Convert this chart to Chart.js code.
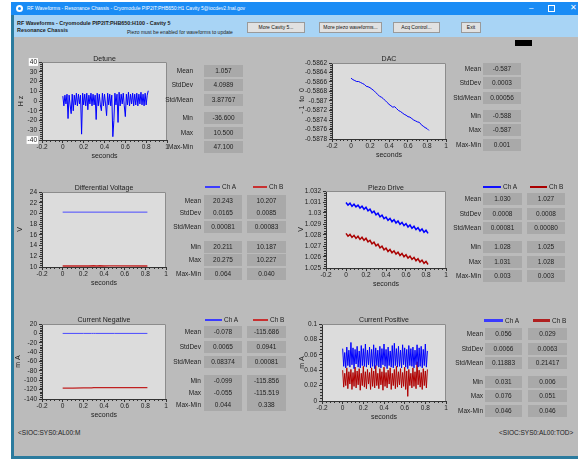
<!DOCTYPE html>
<html>
<head>
<meta charset="utf-8">
<script src="https://cdn.jsdelivr.net/npm/chart.js@4.4.0/dist/chart.umd.min.js"></script>
<style>
  body { margin: 0; width: 578px; height: 460px; background: #fff; position: relative; overflow: hidden;
         font-family: "Liberation Sans", Arial, sans-serif; color: #222; }
  .abs { position: absolute; white-space: nowrap; }
  canvas { position: absolute; }
  .btn { position: absolute; height: 11px; background: #e1e1e1; border: 1px solid #9a9a9a; box-sizing: border-box;
         font-size: 5px; line-height: 9px; text-align: center; color: #111; white-space: nowrap; }
  .lbl { position: absolute; width: 60px; text-align: right; font-size: 6.5px; line-height: 8px; }
  .val { position: absolute; height: 12px; background: #a9a9a9; font-size: 6.5px; line-height: 12px; text-align: center; }
  .ttl { position: absolute; width: 120px; text-align: center; font-size: 7px; line-height: 8px; }
  .leg { position: absolute; font-size: 6.5px; line-height: 8px; }
</style>
</head>
<body>
<!-- window frame -->
<div class="abs" style="left:11px;top:2px;width:567px;height:13px;background:#1a8cf5"></div>
<div class="abs" style="left:16px;top:5px;width:7px;height:7px;border-radius:50%;background:#fff"></div>
<div class="abs" style="left:18px;top:7px;width:3px;height:3px;border-radius:50%;background:#1a8cf5"></div>
<div class="abs" style="left:27px;top:4px;font-size:5px;line-height:8px;color:#fff">RF Waveforms - Resonance Chassis - Cryomodule PIP2IT:PHB650:H1 Cavity 5@iocdev2.fnal.gov</div>
<div class="abs" style="left:529px;top:3px;font-size:8px;line-height:10px;color:#fff">&ndash;</div>
<div class="abs" style="left:548px;top:5px;width:5px;height:5px;border:1px solid #fff"></div>
<div class="abs" style="left:570px;top:3px;font-size:8px;line-height:10px;color:#fff">&#x2715;</div>
<div class="abs" style="left:11px;top:15px;width:567px;height:22px;background:#a8d4f5"></div>
<div class="abs" style="left:11px;top:15px;width:3px;height:444px;background:#2b7b9e"></div>
<div class="abs" style="left:14px;top:37px;width:564px;height:419px;background:#bbbbbb"></div>
<div class="abs" style="left:11px;top:456px;width:567px;height:3px;background:#2b7b9e"></div>

<div class="abs" style="left:17px;top:20px;font-size:5.4px;line-height:7px;font-weight:bold">RF Waveforms - Cryomodule PIP2IT:PHB650:H100 - Cavity 5</div>
<div class="abs" style="left:17px;top:27px;font-size:5.4px;line-height:7px;font-weight:bold">Resonance Chassis</div>
<div class="abs" style="left:127px;top:29px;font-size:5px;line-height:7px">Piezo must be enabled for waveforms to update</div>
<div class="btn" style="left:247px;top:22px;width:58px">More Cavity 5...</div>
<div class="btn" style="left:319px;top:22px;width:63px">More piezo waveforms...</div>
<div class="btn" style="left:393px;top:22px;width:47px">Acq Control...</div>
<div class="btn" style="left:461px;top:22px;width:20px">Exit</div>
<div class="abs" style="left:515px;top:40px;width:17px;height:6px;background:#000"></div>

<div class="abs" style="left:18px;top:429px;font-size:6.5px;line-height:8px">&lt;SIOC:SYS0:AL00:M</div>
<div class="abs" style="left:499px;top:429px;font-size:6.5px;line-height:8px">&lt;SIOC:SYS0:AL00:TOD&gt;</div>

<script>
// sample times (seconds)
const T = [0,0.01,0.02,0.03,0.04,0.05,0.06,0.07,0.08,0.09,
  0.1,0.11,0.12,0.13,0.14,0.15,0.16,0.17,0.18,0.19,
  0.2,0.21,0.22,0.23,0.24,0.25,0.26,0.27,0.28,0.29,
  0.3,0.31,0.32,0.33,0.34,0.35,0.36,0.37,0.38,0.39,
  0.4,0.41,0.42,0.43,0.44,0.45,0.46,0.47,0.48,0.49,
  0.5,0.51,0.52,0.53,0.54,0.55,0.56,0.57,0.58,0.59,
  0.6,0.61,0.62,0.63,0.64,0.65,0.66,0.67,0.68,0.69,
  0.7,0.71,0.72,0.73,0.74,0.75,0.76,0.77,0.78,0.79,
  0.8,0.81,0.82];
const T2 = [0,0.02,0.04,0.06,0.08,0.1,0.12,0.14,0.16,0.18,0.2,0.22,0.24,0.26,0.28,0.3,0.32,0.34,0.36,0.38,
  0.4,0.42,0.44,0.46,0.48,0.5,0.52,0.54,0.56,0.58,0.6,0.62,0.64,0.66,0.68,0.7,0.72,0.74,0.76,0.78,0.8,0.82];

const detune = [5,-5,6,-3,7,-18,6,-4,-13,7,-10,6,-4,8,-5,7,-3,6,-34,8,
  -4,7,-5,8,-9,6,-3,8,-5,7,-4,6,-19,8,-5,7,-4,-10,8,-5,
  7,-3,-15,8,-4,7,-5,6,-36.6,-20,8,-4,7,-22,9,-5,7,-3,8,-5,
  -16,7,-4,9,-5,7,-3,8,-5,7,-4,8,-5,7,-3,9,-4,7,-5,8,
  -4,6,10.5];

const dac = [-0.58652,-0.58655,-0.58657,-0.58659,-0.58659,-0.58661,-0.58663,-0.58665,-0.58669,-0.58670,
  -0.58672,-0.58675,-0.58678,-0.58682,-0.58686,-0.58690,-0.58692,-0.58695,-0.58699,-0.58703,
  -0.58707,-0.58710,-0.58713,-0.58712,-0.58716,-0.58720,-0.58722,-0.58725,-0.58728,-0.58730,
  -0.58733,-0.58734,-0.58737,-0.58740,-0.58742,-0.58744,-0.58745,-0.58750,-0.58753,-0.58756,
  -0.58758,-0.58762];

const dvT = [0, 0.82];
const dvA = [20.243, 20.243];
const dvTB = [0, 0.25, 0.3, 0.33, 0.36, 0.4, 0.45, 0.82];
const dvB = [10.2, 10.2, 10.22, 10.19, 10.23, 10.19, 10.21, 10.21];

const piezoA = [1.03096,1.03072,1.03089,1.03061,1.03080,1.03056,1.03071,1.03045,1.03062,1.03034,
  1.03053,1.03020,1.03035,1.03002,1.03017,1.02984,1.02999,1.02966,1.02981,1.02948,
  1.02963,1.02933,1.02951,1.02921,1.02939,1.02909,1.02927,1.02897,1.02915,1.02885,
  1.02903,1.02873,1.02891,1.02861,1.02879,1.02849,1.02867,1.02837,1.02855,1.02825,
  1.02843,1.02815];
const piezoB = [1.02815,1.02789,1.02806,1.02778,1.02797,1.02769,1.02788,1.02760,1.02779,1.02751,
  1.02770,1.02737,1.02752,1.02719,1.02734,1.02701,1.02716,1.02683,1.02698,1.02665,
  1.02680,1.02650,1.02668,1.02638,1.02656,1.02626,1.02644,1.02614,1.02632,1.02602,
  1.02620,1.02590,1.02608,1.02578,1.02596,1.02566,1.02584,1.02554,1.02572,1.02542,
  1.02560,1.02532];

const cnT = [0, 0.1, 0.2, 0.28, 0.3, 0.32, 0.5, 0.82];
const cnA = [-0.08, -0.07, -0.09, -0.08, -0.06, -0.08, -0.07, -0.08];
const cnB = [-116.8, -116.6, -116.4, -116.2, -115.6, -115.8, -115.7, -115.6];

const cpA = [0.068,0.045,0.063,0.043,0.070,0.046,0.066,0.044,0.076,0.047,
  0.069,0.042,0.067,0.048,0.071,0.044,0.065,0.043,0.072,0.046,
  0.068,0.045,0.074,0.044,0.066,0.047,0.070,0.043,0.067,0.045,
  0.073,0.042,0.069,0.046,0.066,0.044,0.071,0.043,0.068,0.047,
  0.074,0.045,0.067,0.042,0.070,0.046,0.065,0.044,0.072,0.043,
  0.075,0.046,0.068,0.044,0.071,0.045,0.066,0.043,0.073,0.047,
  0.069,0.044,0.067,0.042,0.072,0.046,0.068,0.045,0.070,0.043,
  0.066,0.047,0.073,0.044,0.069,0.045,0.071,0.043,0.067,0.046,
  0.074,0.044,0.065];
const cpB = [0.040,0.018,0.036,0.020,0.043,0.016,0.038,0.022,0.041,0.015,
  0.037,0.019,0.044,0.017,0.039,0.021,0.042,0.014,0.036,0.020,
  0.045,0.018,0.038,0.016,0.041,0.022,0.037,0.015,0.043,0.019,
  0.039,0.017,0.046,0.020,0.036,0.016,0.042,0.021,0.038,0.014,
  0.044,0.019,0.037,0.017,0.040,0.022,0.043,0.015,0.036,0.020,
  0.041,0.016,0.045,0.018,0.038,0.021,0.042,0.017,0.037,0.019,
  0.044,0.015,0.039,0.006,0.041,0.020,0.036,0.017,0.043,0.019,
  0.038,0.016,0.051,0.021,0.040,0.018,0.037,0.015,0.042,0.020,
  0.039,0.017,0.041];

const statLabels = ['Mean','StdDev','Std/Mean','Min','Max','Max-Min'];
const detuneStats = ['1.057','4.0989','3.87767','-36.600','10.500','47.100'];
const dacStats = ['-0.587','0.0003','0.00056','-0.588','-0.587','0.001'];
const dvStatsA = ['20.243','0.0165','0.00081','20.211','20.275','0.064'];
const dvStatsB = ['10.207','0.0085','0.00083','10.187','10.227','0.040'];
const pzStatsA = ['1.030','0.0008','0.00081','1.028','1.031','0.003'];
const pzStatsB = ['1.027','0.0008','0.00080','1.025','1.028','0.003'];
const cnStatsA = ['-0.078','0.0065','0.08374','-0.099','-0.055','0.044'];
const cnStatsB = ['-115.686','0.0941','0.00081','-115.856','-115.519','0.338'];
const cpStatsA = ['0.056','0.0066','0.11883','0.031','0.076','0.046'];
const cpStatsB = ['0.029','0.0063','0.21417','0.006','0.051','0.046'];

const FONT = "'Liberation Sans', Arial, sans-serif";

// grey plot background + thin frame + minor ticks
const framePlugin = {
  id: 'frame',
  beforeDraw(c) {
    const a = c.chartArea, ctx = c.ctx;
    ctx.save();
    ctx.fillStyle = '#dcdcdc';
    ctx.fillRect(a.left, a.top, a.right - a.left, a.bottom - a.top);
    ctx.restore();
  },
  afterDraw(c) {
    const a = c.chartArea, ctx = c.ctx;
    ctx.save();
    ctx.strokeStyle = '#8c8c8c';
    ctx.lineWidth = 1;
    ctx.beginPath();
    ctx.moveTo(a.left, a.top + 0.5); ctx.lineTo(a.right - 0.5, a.top + 0.5); ctx.lineTo(a.right - 0.5, a.bottom);
    ctx.stroke();
    ctx.strokeStyle = '#333';
    ['x', 'y'].forEach(k => {
      const s = c.scales[k], t = s.ticks;
      for (let i = 0; i < t.length - 1; i++) {
        for (let j = 1; j < 5; j++) {
          const p = Math.round(s.getPixelForValue(t[i].value + (t[i + 1].value - t[i].value) * j / 5)) + 0.5;
          ctx.beginPath();
          if (k === 'x') { ctx.moveTo(p, a.bottom); ctx.lineTo(p, a.bottom + 2); }
          else { ctx.moveTo(a.left, p); ctx.lineTo(a.left - 2, p); }
          ctx.stroke();
        }
      }
    });
    ctx.restore();
  }
};

function div(cls, style, text) {
  const d = document.createElement('div');
  d.className = cls;
  Object.assign(d.style, style);
  d.textContent = text;
  document.body.appendChild(d);
  return d;
}

function series(xs, ys, color, width) {
  return {
    data: xs.map((x, i) => ({ x: x, y: ys[i] })),
    borderColor: color, borderWidth: width, pointRadius: 0, tension: 0, fill: false
  };
}

const fmt = v => String(+(+v).toFixed(6));

function waveChart(box, y, datasets, title) {
  const W = box.left - box.ytx + 6;
  const cv = document.createElement('canvas');
  cv.width = W + (box.right - box.left) + 8;
  cv.height = 6 + (box.bottom - box.top) + 20;
  cv.style.left = (box.left - W) + 'px';
  cv.style.top = (box.top - 6) + 'px';
  document.body.appendChild(cv);

  const tickFont = { family: FONT, size: 6.5, lineHeight: 1.2 };
  new Chart(cv, {
    type: 'line',
    data: { datasets: datasets },
    plugins: [framePlugin],
    options: {
      responsive: false,
      animation: false,
      events: [],
      layout: { padding: { top: 6, right: 8, left: 0, bottom: 0 } },
      plugins: { legend: { display: false }, tooltip: { enabled: false } },
      scales: {
        x: {
          type: 'linear', min: -0.2, max: 1,
          afterFit: s => { s.height = 20; },
          ticks: { stepSize: 0.2, font: tickFont, color: '#222', padding: 0, maxRotation: 0,
                   autoSkip: false, callback: fmt },
          grid: { drawOnChartArea: false, tickLength: 3, color: '#333' },
          border: { color: '#333' },
          title: { display: true, text: 'seconds', font: { family: FONT, size: 7, lineHeight: 1.2 },
                   color: '#222', padding: { top: 0, bottom: 0 } }
        },
        y: {
          type: 'linear', min: y.min, max: y.max,
          afterFit: s => { s.width = W; },
          ticks: {
            stepSize: y.step, font: tickFont, color: '#222', padding: 2, autoSkip: false, callback: fmt,
            showLabelBackdrop: c => !!y.backdrop && (c.index === 0 || c.index === c.scale.ticks.length - 1),
            backdropColor: '#ffffff', backdropPadding: { top: 0, bottom: 0, left: 1, right: 1 }
          },
          grid: { drawOnChartArea: false, tickLength: 3, color: '#333' },
          border: { color: '#333' },
          title: { display: true, text: y.title, font: { family: FONT, size: 7, lineHeight: 1.2 },
                   color: '#222', padding: { top: 6 - 4.2, bottom: 0 } }
        }
      }
    }
  });

  div('ttl', { left: ((box.left + box.right) / 2 - 60) + 'px', top: (box.titleY - 4) + 'px' }, title);
}

function statsBlock(labelRight, rows, boxes, cols) {
  rows.forEach((yc, r) => {
    div('lbl', { left: (labelRight - 60) + 'px', top: (yc - 4) + 'px' }, statLabels[r]);
    boxes.forEach((b, k) => {
      div('val', { left: b[0] + 'px', top: (yc - 6) + 'px', width: (b[1] - b[0]) + 'px' }, cols[k][r]);
    });
  });
}

function legend(y, items) {
  items.forEach(it => {
    div('abs', { left: it.x0 + 'px', top: Math.round(y - it.w / 2) + 'px', width: (it.x1 - it.x0) + 'px',
                 height: it.w + 'px', background: it.color }, '');
    div('leg', { left: (it.x1 + 2) + 'px', top: Math.round(y - 4) + 'px' }, it.text);
  });
}

const BLUE = '#0000ff', RED = '#b00000';

// Detune
waveChart({ left: 42, top: 62, right: 167, bottom: 140, ytx: 21, titleY: 58.5 },
  { min: -40, max: 40, step: 10, title: 'H z', backdrop: true },
  [series(T, detune, BLUE, 1)], 'Detune');
statsBlock(193, [70.7, 85, 100, 118.3, 132.7, 147.3], [[204, 243]], [detuneStats]);

// DAC
waveChart({ left: 332, top: 63, right: 446, bottom: 139, ytx: 302, titleY: 58.7 },
  { min: -0.5878, max: -0.5862, step: 0.0002, title: '- 1  to  0' },
  [series(T2, dac, BLUE, 1)], 'DAC');
statsBlock(481, [69, 83.3, 97.7, 116, 130.3, 145.3], [[483, 521]], [dacStats]);

// Differential Voltage
waveChart({ left: 42, top: 192, right: 166, bottom: 267, ytx: 20, titleY: 187.7 },
  { min: 10, max: 24, step: 2, title: 'V' },
  [series(dvT, dvA, '#4a4aff', 1), series(dvTB, dvB, '#c02020', 1.5)], 'Differential Voltage');
legend(187, [{ x0: 205, x1: 220, w: 2, color: '#3c3cff', text: 'Ch A' },
             { x0: 253, x1: 267, w: 2, color: '#c83030', text: 'Ch B' }]);
statsBlock(201, [201, 213.3, 227.3, 246.7, 260, 274], [[204, 242], [247, 286]], [dvStatsA, dvStatsB]);

// Piezo Drive
waveChart({ left: 326, top: 191, right: 446, bottom: 268, ytx: 301, titleY: 188.3 },
  { min: 1.025, max: 1.032, step: 0.001, title: 'V' },
  [series(T2, piezoA, BLUE, 1.5), series(T2, piezoB, '#aa0000', 1.5)], 'Piezo Drive');
legend(187.3, [{ x0: 483, x1: 501, w: 2, color: '#1010ff', text: 'Ch A' },
               { x0: 530, x1: 547, w: 2, color: '#aa0000', text: 'Ch B' }]);
statsBlock(481, [199.3, 214.3, 228.3, 246.7, 261.7, 276], [[483, 522], [527, 565]], [pzStatsA, pzStatsB]);

// Current Negative
waveChart({ left: 42, top: 324, right: 166, bottom: 399, ytx: 18, titleY: 320 },
  { min: -140, max: 20, step: 20, title: 'm A' },
  [series(cnT, cnA, '#4a4aff', 1), series(cnT, cnB, '#c02020', 1.2)], 'Current Negative');
legend(319.7, [{ x0: 205, x1: 222, w: 2, color: '#3c3cff', text: 'Ch A' },
               { x0: 253, x1: 268, w: 2, color: '#c83030', text: 'Ch B' }]);
statsBlock(201, [331.7, 346.7, 361.7, 381, 393.3, 404.5], [[204, 242], [247, 286]], [cnStatsA, cnStatsB]);

// Current Positive
waveChart({ left: 322, top: 324, right: 446, bottom: 401, ytx: 302, titleY: 320 },
  { min: 0, max: 0.1, step: 0.02, title: 'm A' },
  [series(T, cpA, BLUE, 1), series(T, cpB, RED, 1)], 'Current Positive');
legend(320.7, [{ x0: 484, x1: 503, w: 3, color: '#3a3aff', text: 'Ch A' },
               { x0: 533, x1: 550, w: 3, color: '#b02020', text: 'Ch B' }]);
statsBlock(483, [334.3, 349, 363.3, 381.7, 395.7, 411], [[485, 522], [528, 567]], [cpStatsA, cpStatsB]);
</script>
</body>
</html>
